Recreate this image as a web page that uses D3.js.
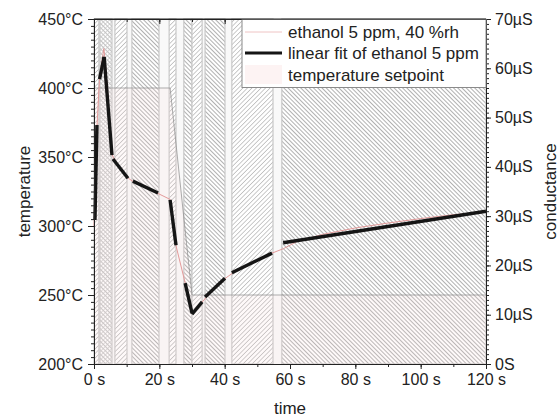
<!DOCTYPE html>
<html><head><meta charset="utf-8">
<script src="https://cdn.jsdelivr.net/npm/d3@7"></script>
<style>
body{margin:0;background:#fff;}
svg{display:block;font-family:"Liberation Sans",Arial,sans-serif;}
</style></head>
<body><svg id="c" width="560" height="419"></svg>
<script>
// ---- data ----
const xTicks = [0, 20, 40, 60, 80, 100, 120];
const tempTicks = [200, 250, 300, 350, 400, 450];
const condTicks = [0, 10, 20, 30, 40, 50, 60, 70];

// background bands (time in s) and hatch style
const bandStart = [0, 1.8, 6.4, 11.6, 23.0, 27.5, 30.0, 34.0, 42.2, 57.5];
const bandEnd   = [1.5, 5.5, 10.1, 19.9, 25.1, 30.0, 33.1, 40.1, 54.8, 120];
const bandStyle = ["fwd", "cross", "fwd", "back", "fwd", "back", "fwd", "back", "fwd", "back"];

// temperature setpoint
const setTime = [0, 23.3, 30, 120];
const setTemp = [400, 400, 250, 250];

// measured conductance (µS)
const dataTime = [0, 0.9, 1.7, 3.0, 3.5, 5.5, 8, 10.5, 12, 16, 19.6, 23.3, 25.1, 27.9, 30, 33, 35, 40, 43, 48, 54.5, 58, 62, 70, 80, 90, 100, 110, 120];
const dataCond = [28, 48, 58, 64, 61, 42.5, 39.5, 37.7, 37, 35.8, 34.6, 33.4, 24, 16.5, 10.2, 12.5, 14, 17.3, 18.7, 20.5, 22.5, 23.4, 24.8, 26.3, 27.6, 28.6, 29.5, 30.3, 30.8];

// linear fit segments: [t0, c0, t1, c1]
const fitT0 = [0.3, 1.7, 3.1, 5.8, 11.9, 23.3, 27.9, 30.0, 34.0, 42.2, 57.9];
const fitC0 = [29.2, 57.8, 62.3, 41.6, 37.1, 33.3, 16.4, 10.1, 13.6, 18.5, 24.6];
const fitT1 = [0.9, 3.1, 5.5, 10.4, 19.6, 25.1, 30.0, 33.1, 40.1, 54.5, 120];
const fitC1 = [48.5, 62.3, 42.4, 37.7, 34.7, 24.1, 10.3, 12.6, 17.4, 22.5, 31.0];

const legendLabels = ["ethanol 5 ppm, 40 %rh", "linear fit of ethanol 5 ppm", "temperature setpoint"];

// ---- chart ----
const svg = d3.select("#c");
const L = 94, R = 486, T = 19, B = 364;
const x = d3.scaleLinear([0, 120], [L, R]);
const yT = d3.scaleLinear([200, 450], [B, T]);
const yC = d3.scaleLinear([0, 70], [B, T]);

const defs = svg.append("defs");
function hatch(id, angle, color, sw, gap) {
  const p = defs.append("pattern").attr("id", id)
    .attr("patternUnits", "userSpaceOnUse").attr("width", gap).attr("height", gap)
    .attr("patternTransform", `rotate(${angle})`);
  p.append("rect").attr("width", gap).attr("height", gap).attr("fill", "#fff");
  p.append("line").attr("x1", 0).attr("y1", 0).attr("x2", 0).attr("y2", gap)
    .attr("stroke", color).attr("stroke-width", sw);
}
hatch("fwd", 45, "#a9a9a9", 1.2, 3.2);
hatch("back", -45, "#7c7c7c", 1.2, 3.0);
(function(){
  const p = defs.append("pattern").attr("id", "cross")
    .attr("patternUnits", "userSpaceOnUse").attr("width", 3).attr("height", 3)
    .attr("patternTransform", "rotate(-45)");
  p.append("rect").attr("width", 3).attr("height", 3).attr("fill", "#fff");
  p.append("line").attr("x1", 0).attr("y1", 0).attr("x2", 0).attr("y2", 3).attr("stroke", "#999").attr("stroke-width", 1.2);
  p.append("line").attr("x1", 0).attr("y1", 1.5).attr("x2", 3).attr("y2", 1.5).attr("stroke", "#c4c4c4").attr("stroke-width", 0.7);
})();

// plot background
svg.append("rect").attr("x", L).attr("y", T).attr("width", R - L).attr("height", B - T).attr("fill", "#f9f9f9");

const bands = bandStart.map((s, i) => ({s, e: bandEnd[i], st: bandStyle[i]}));
svg.append("g").selectAll("rect").data(bands).join("rect")
  .attr("x", d => x(d.s)).attr("y", T)
  .attr("width", d => x(d.e) - x(d.s)).attr("height", B - T)
  .attr("fill", d => `url(#${d.st})`)
  .attr("stroke", "#c8c8c8").attr("stroke-width", 1.2);

// setpoint area
const sp = setTime.map((t, i) => [t, setTemp[i]]);
svg.append("path").datum(sp)
  .attr("d", d3.area().x(d => x(d[0])).y0(B).y1(d => yT(d[1])))
  .attr("fill", "rgb(248,220,220)").attr("fill-opacity", 0.16);
svg.append("path").datum(sp)
  .attr("d", d3.line().x(d => x(d[0])).y(d => yT(d[1])))
  .attr("fill", "none").attr("stroke", "#8a8a8a").attr("stroke-width", 0.7);

// data line
const dl = dataTime.map((t, i) => [t, dataCond[i]]);
svg.append("path").datum(dl)
  .attr("d", d3.line().x(d => x(d[0])).y(d => yC(d[1])))
  .attr("fill", "none").attr("stroke", "#e39a9a").attr("stroke-width", 1);

// fit segments
const segs = fitT0.map((t, i) => [[t, fitC0[i]], [fitT1[i], fitC1[i]]]);
svg.append("g").selectAll("path").data(segs).join("path")
  .attr("d", d3.line().x(d => x(d[0])).y(d => yC(d[1])))
  .attr("fill", "none").attr("stroke", "#151515").attr("stroke-width", 3.4);

// axes
const fs = "16px";
function style(g) {
  g.select(".domain").attr("stroke", "#222");
  g.selectAll(".tick line").attr("stroke", "#222");
  g.selectAll("text").attr("font-size", fs).attr("fill", "#222").attr("font-family", "Liberation Sans, Arial, sans-serif");
}
// bottom
svg.append("g").attr("transform", `translate(0,${B})`)
  .call(d3.axisBottom(x).tickValues(d3.range(0, 121, 10)).tickSize(3).tickFormat("")).call(style);
svg.append("g").attr("transform", `translate(0,${B})`)
  .call(d3.axisBottom(x).tickValues(xTicks).tickSize(5).tickPadding(5).tickFormat(d => d + " s")).call(style);
// top (inward)
svg.append("g").attr("transform", `translate(0,${T})`)
  .call(d3.axisBottom(x).tickValues(d3.range(0, 121, 10)).tickSize(3).tickFormat("")).call(style);
svg.append("g").attr("transform", `translate(0,${T})`)
  .call(d3.axisBottom(x).tickValues(xTicks).tickSize(5).tickFormat("")).call(style);
// left
svg.append("g").attr("transform", `translate(${L},0)`)
  .call(d3.axisLeft(yT).tickValues(d3.range(200, 451, 5)).tickSize(3).tickFormat("")).call(style);
svg.append("g").attr("transform", `translate(${L},0)`)
  .call(d3.axisLeft(yT).tickValues(tempTicks).tickSize(6).tickPadding(5).tickFormat(d => d + "°C")).call(style);
// right
svg.append("g").attr("transform", `translate(${R},0)`)
  .call(d3.axisRight(yC).tickValues(d3.range(0, 71, 1)).tickSize(3).tickFormat("")).call(style);
svg.append("g").attr("transform", `translate(${R},0)`)
  .call(d3.axisRight(yC).tickValues(condTicks).tickSize(5).tickPadding(4).tickFormat(d => d === 0 ? "0S" : d + "µS")).call(style);

// titles
svg.append("text").attr("transform", `translate(30,${(T + B) / 2}) rotate(-90)`)
  .attr("text-anchor", "middle").attr("font-size", "17px").attr("fill", "#222").text("temperature");
svg.append("text").attr("transform", `translate(556,${(T + B) / 2}) rotate(-90)`)
  .attr("text-anchor", "middle").attr("font-size", "17px").attr("fill", "#222").text("conductance");
svg.append("text").attr("x", (L + R) / 2).attr("y", 414)
  .attr("text-anchor", "middle").attr("font-size", "17px").attr("fill", "#222").text("time");

// legend
const lg = svg.append("g");
lg.append("rect").attr("x", 242).attr("y", T + 0.5).attr("width", R - 242).attr("height", 68)
  .attr("fill", "#fff").attr("stroke", "#8a8a8a").attr("stroke-width", 1);
const ly = [32, 53, 75];
lg.append("line").attr("x1", 245).attr("x2", 282).attr("y1", ly[0]).attr("y2", ly[0]).attr("stroke", "#efc4c4").attr("stroke-width", 1);
lg.append("line").attr("x1", 245).attr("x2", 282).attr("y1", ly[1]).attr("y2", ly[1]).attr("stroke", "#151515").attr("stroke-width", 3);
lg.append("rect").attr("x", 245).attr("y", 65).attr("width", 37).attr("height", 19).attr("fill", "#fdf3f3");
lg.selectAll("text").data(legendLabels).join("text")
  .attr("x", 288).attr("y", (d, i) => ly[i]).attr("dy", "0.35em")
  .attr("font-size", "17px").attr("fill", "#222").text(d => d);

// frame redraw on top
svg.append("line").attr("x1", L).attr("x2", R).attr("y1", T).attr("y2", T).attr("stroke", "#222");
</script></body></html>
